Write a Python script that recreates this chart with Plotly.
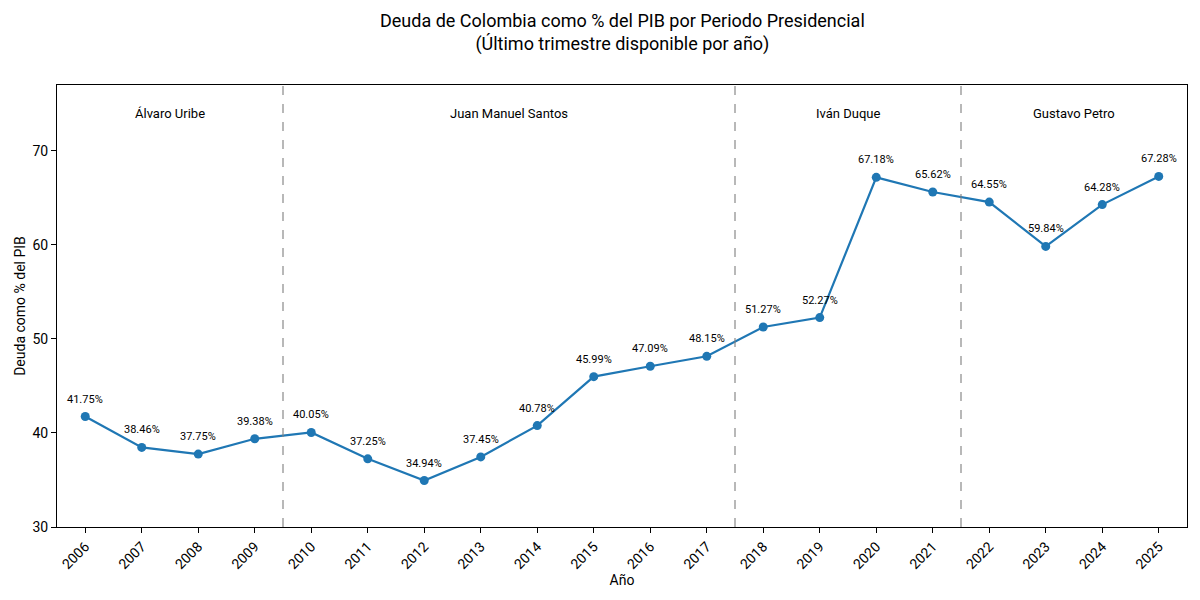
import plotly.graph_objects as go

years = list(range(2006, 2026))
deuda = [41.75, 38.46, 37.75, 39.38, 40.05, 37.25, 34.94, 37.45, 40.78, 45.99,
         47.09, 48.15, 51.27, 52.27, 67.18, 65.62, 64.55, 59.84, 64.28, 67.28]
presidentes = ["Álvaro Uribe", "Juan Manuel Santos", "Iván Duque", "Gustavo Petro"]
periodos_centro = [2007.5, 2013.5, 2019.5, 2023.5]
cortes = [2009.5, 2017.5, 2021.5]

FONT = "Roboto"
fig = go.Figure()
fig.add_trace(go.Scatter(
    x=years, y=deuda, mode="lines+markers",
    line=dict(color="#1f77b4", width=2.2),
    marker=dict(color="#1f77b4", size=9),
    showlegend=False, hoverinfo="x+y",
))

for c in cortes:
    fig.add_shape(type="line", x0=c, x1=c, y0=0, y1=1, xref="x", yref="paper",
                  line=dict(color="rgba(128,128,128,0.75)", width=1.5, dash="dash"))

annotations = []
for x, y in zip(years, deuda):
    annotations.append(dict(x=x, y=y, xref="x", yref="y", text=f"{y:.2f}%",
                            showarrow=False, yanchor="bottom", yshift=9,
                            font=dict(size=11, color="#000", family=FONT)))
for p, cx in zip(presidentes, periodos_centro):
    annotations.append(dict(x=cx, y=74, xref="x", yref="y", text=p, showarrow=False,
                            yanchor="middle", font=dict(size=13, color="#000", family=FONT)))
annotations.append(dict(x=0.5, y=1 + 52 / 442, xref="paper", yref="paper",
                        text="Deuda de Colombia como % del PIB por Periodo Presidencial<br>(Último trimestre disponible por año)",
                        showarrow=False, xanchor="center", yanchor="middle",
                        font=dict(size=18, family=FONT, color="#000")))

fig.update_layout(
    width=1200, height=600,
    margin=dict(l=57, r=13, t=85, b=73),
    paper_bgcolor="white", plot_bgcolor="white",
    font=dict(family=FONT, color="#000", size=13),
    annotations=annotations,
)
fig.update_xaxes(range=[2005.5, 2025.5], tickmode="array", tickvals=years,
                 ticktext=[str(y) for y in years], tickangle=-45,
                 ticks="outside", ticklen=5, tickcolor="#000", showgrid=False,
                 showline=True, linecolor="#000", linewidth=1, mirror=True,
                 zeroline=False, title=dict(text="Año", standoff=4, font=dict(size=14)),
                 tickfont=dict(size=14))
fig.update_yaxes(range=[30, 77], tickvals=[30, 40, 50, 60, 70],
                 ticks="outside", ticklen=5, tickcolor="#000", showgrid=False,
                 showline=True, linecolor="#000", linewidth=1, mirror=True,
                 zeroline=False, title=dict(text="Deuda como % del PIB", standoff=3, font=dict(size=14)),
                 tickfont=dict(size=14))

fig.write_html("out.html")
